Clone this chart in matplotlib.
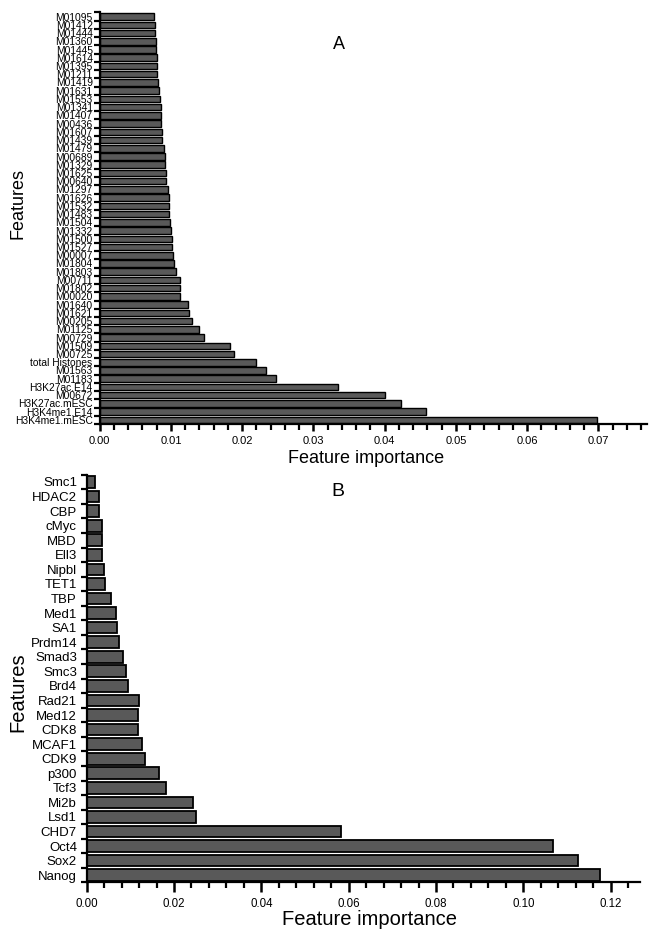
import numpy as np
import matplotlib
matplotlib.use('Agg')
import matplotlib.pyplot as plt
from matplotlib.ticker import MultipleLocator, FixedLocator, NullFormatter

plt.rcParams['font.family'] = ['Liberation Sans', 'DejaVu Sans']

# Panel A: features ordered from the bottom bar (largest) to the top bar
features_a = [
    'H3K4me1.mESC', 'H3K4me1.E14', 'H3K27ac.mESC', 'M00672', 'H3K27ac.E14',
    'M01183', 'M01563', 'total Histones', 'M00725', 'M01509',
    'M00729', 'M01125', 'M00205', 'M01621', 'M01640',
    'M00020', 'M01802', 'M00711', 'M01803', 'M01804',
    'M00007', 'M01527', 'M01500', 'M01332', 'M01504',
    'M01483', 'M01532', 'M01626', 'M01297', 'M00640',
    'M01625', 'M01329', 'M00689', 'M01479', 'M01439',
    'M01607', 'M00436', 'M01407', 'M01341', 'M01553',
    'M01631', 'M01419', 'M01211', 'M01395', 'M01614',
    'M01445', 'M01360', 'M01444', 'M01412', 'M01095',
]
importance_a = [
    0.0698, 0.0458, 0.0423, 0.0401, 0.0335,
    0.0247, 0.0233, 0.0219, 0.0188, 0.0183,
    0.0147, 0.0139, 0.0130, 0.0125, 0.0124,
    0.0113, 0.0113, 0.0113, 0.0107, 0.0105,
    0.0103, 0.0102, 0.0101, 0.0100, 0.0099,
    0.0098, 0.0098, 0.0098, 0.0096, 0.0093,
    0.0093, 0.0091, 0.0091, 0.0090, 0.0088,
    0.0087, 0.0086, 0.0086, 0.0086, 0.0085,
    0.0083, 0.0082, 0.0080, 0.0080, 0.0080,
    0.0079, 0.0079, 0.0078, 0.0077, 0.0076,
]

# Panel B: same ordering (bottom bar first)
features_b = [
    'Nanog', 'Sox2', 'Oct4', 'CHD7', 'Lsd1', 'Mi2b', 'Tcf3', 'p300',
    'CDK9', 'MCAF1', 'CDK8', 'Med12', 'Rad21', 'Brd4', 'Smc3', 'Smad3',
    'Prdm14', 'SA1', 'Med1', 'TBP', 'TET1', 'Nipbl', 'Ell3', 'MBD',
    'cMyc', 'CBP', 'HDAC2', 'Smc1',
]
importance_b = [
    0.1175, 0.1126, 0.1069, 0.0583, 0.0250, 0.0244, 0.0182, 0.0166,
    0.0133, 0.0126, 0.0118, 0.0118, 0.0119, 0.0094, 0.0089, 0.0083,
    0.0074, 0.0069, 0.0066, 0.0055, 0.0043, 0.0040, 0.0035, 0.0034,
    0.0034, 0.0029, 0.0029, 0.0018,
]

BAR_COLOR = '#595959'


def draw_panel(ax, names, values, xmax, major, minor, label_size, tick_size,
               axis_label_size, edge_lw, ylabel_pos, xlabel_pos, ytick_pad,
               major_len):
    y = np.arange(len(names))
    ax.barh(y, values, height=0.8, color=BAR_COLOR, edgecolor='black',
            linewidth=edge_lw)

    ax.set_xlim(0, xmax)
    ax.set_ylim(-0.5, len(names) - 0.5)

    # Only left and bottom spines
    for side in ['top', 'right']:
        ax.spines[side].set_visible(False)
    for side in ['left', 'bottom']:
        ax.spines[side].set_linewidth(1.6)

    # y labels at bar centres, tick marks between bars
    ax.set_yticks(y)
    ax.set_yticklabels(names, fontsize=label_size)
    ax.yaxis.set_minor_locator(FixedLocator(np.arange(len(names) + 1) - 0.5))
    ax.tick_params(axis='y', which='major', length=0, pad=ytick_pad)
    ax.tick_params(axis='y', which='minor', length=4, width=1.6, direction='out')

    ax.xaxis.set_major_locator(MultipleLocator(major))
    ax.xaxis.set_minor_locator(MultipleLocator(minor))
    ax.xaxis.set_minor_formatter(NullFormatter())
    ax.xaxis.set_major_formatter(plt.FormatStrFormatter('%.2f'))
    ax.tick_params(axis='x', which='major', length=major_len, width=1.8,
                   labelsize=tick_size, pad=4)
    ax.tick_params(axis='x', which='minor', length=4, width=1.6)

    ax.set_ylabel('Features', fontsize=axis_label_size)
    ax.yaxis.set_label_coords(*ylabel_pos)
    ax.set_xlabel('Feature importance', fontsize=axis_label_size)
    ax.xaxis.set_label_coords(*xlabel_pos)


def create_figure():
    fig = plt.figure(figsize=(6.49, 9.31), dpi=100)

    ax_a = fig.add_axes([0.1536, 0.5446, 0.843, 0.442])
    draw_panel(ax_a, features_a, importance_a, 0.0768, 0.01, 0.002,
               label_size=7.4, tick_size=8, axis_label_size=13, edge_lw=1.0,
               ylabel_pos=(-0.133, 0.537), xlabel_pos=(0.486, -0.064),
               ytick_pad=5, major_len=5)
    ax_a.text(0.438, 0.923, 'A', transform=ax_a.transAxes, fontsize=13,
              ha='center', va='center')

    ax_b = fig.add_axes([0.1336, 0.0521, 0.853, 0.438])
    draw_panel(ax_b, features_b, importance_b, 0.1268, 0.02, 0.004,
               label_size=9.5, tick_size=8.3, axis_label_size=14.5, edge_lw=1.3,
               ylabel_pos=(-0.108, 0.467), xlabel_pos=(0.51, -0.068),
               ytick_pad=7, major_len=7)
    ax_b.text(0.454, 0.96, 'B', transform=ax_b.transAxes, fontsize=14,
              ha='center', va='center')

    fig.savefig('out.png', dpi=100)


if __name__ == '__main__':
    create_figure()
